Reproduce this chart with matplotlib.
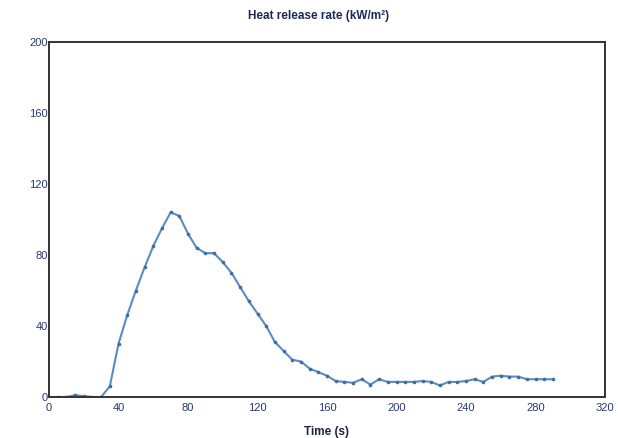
import matplotlib
matplotlib.use("Agg")
import matplotlib.pyplot as plt

time_s = [0, 5, 10, 15, 20, 25, 30, 35, 40, 45, 50, 55, 60, 65, 70, 75, 80, 85, 90, 95,
          100, 105, 110, 115, 120, 125, 130, 135, 140, 145, 150, 155, 160, 165, 170, 175,
          180, 185, 190, 195, 200, 205, 210, 215, 220, 225, 230, 235, 240, 245, 250, 255,
          260, 265, 270, 275, 280, 285, 290]
hrr = [0, 0, 0, 1, 0.5, 0, 0, 6, 30, 46, 60, 73, 85, 95, 104, 102, 92, 84, 81, 81,
       76, 70, 62, 54, 47, 40, 31, 26, 21, 20, 16, 14, 12, 9, 8.5, 8,
       10, 7, 10, 8.5, 8.5, 8.5, 8.5, 9, 8.5, 6.5, 8.5, 8.5, 9, 10, 8.5, 11.5,
       12, 11.5, 11.5, 10, 10, 10, 10]
x_ticks = [0, 40, 80, 120, 160, 200, 240, 280, 320]
y_ticks = [0, 40, 80, 120, 160, 200]

plt.rcParams['font.family'] = ['Liberation Sans', 'DejaVu Sans']

fig = plt.figure(figsize=(6.18, 4.38), dpi=100)
ax = fig.add_axes([49/618, 41/438, (605-49)/618, (397-42)/438])

ax.plot(time_s, hrr, color='#5a8cc2', lw=1.5, marker='o', ms=1.6,
        mfc='#3f6fa2', mec='#3f6fa2')

ax.set_xlim(0, 320)
ax.set_ylim(0, 200)
ax.set_xticks(x_ticks)
ax.set_yticks(y_ticks)
ax.tick_params(axis='both', length=0, labelsize=8, colors='#2a3870')
ax.tick_params(axis='x', pad=4)
ax.tick_params(axis='y', pad=1)
for s in ax.spines.values():
    s.set_color('#333333')
    s.set_linewidth(1.4)

ax.set_xlabel('Time (s)', fontsize=8.5, fontweight='bold', color='#1e2440', labelpad=10)
fig.text(0.5 + 10/618, 1 - 16/438, 'Heat release rate (kW/m²)', ha='center', va='center',
         fontsize=8.5, fontweight='bold', color='#1e2a55')

fig.savefig('out.png', dpi=100)
